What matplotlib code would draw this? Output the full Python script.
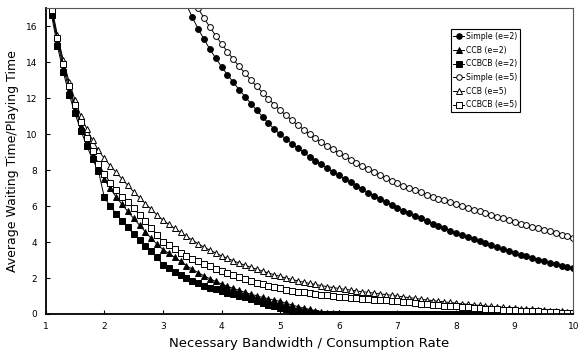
import matplotlib
matplotlib.use("Agg")
import matplotlib.pyplot as plt

# x grid: necessary bandwidth / consumption rate
bandwidth = [1.1, 1.2, 1.3, 1.4, 1.5, 1.6, 1.7, 1.8, 1.9, 2.0,
             2.1, 2.2, 2.3, 2.4, 2.5, 2.6, 2.7, 2.8, 2.9, 3.0,
             3.1, 3.2, 3.3, 3.4, 3.5, 3.6, 3.7, 3.8, 3.9, 4.0,
             4.1, 4.2, 4.3, 4.4, 4.5, 4.6, 4.7, 4.8, 4.9, 5.0,
             5.1, 5.2, 5.3, 5.4, 5.5, 5.6, 5.7, 5.8, 5.9, 6.0,
             6.1, 6.2, 6.3, 6.4, 6.5, 6.6, 6.7, 6.8, 6.9, 7.0,
             7.1, 7.2, 7.3, 7.4, 7.5, 7.6, 7.7, 7.8, 7.9, 8.0,
             8.1, 8.2, 8.3, 8.4, 8.5, 8.6, 8.7, 8.8, 8.9, 9.0,
             9.1, 9.2, 9.3, 9.4, 9.5, 9.6, 9.7, 9.8, 9.9, 10.0]

# Simple series start at 3.4 (earlier values are off the top of the chart)
simple_start = 23

simple_e2 = [17.2, 16.5, 15.85, 15.28, 14.72, 14.22, 13.75,
             13.3, 12.88, 12.47, 12.08, 11.7, 11.33, 10.96, 10.6, 10.28, 9.98,
             9.72, 9.47, 9.22, 8.98, 8.75, 8.53, 8.32, 8.11, 7.9, 7.7,
             7.5, 7.31, 7.12, 6.93, 6.75, 6.58, 6.4, 6.23, 6.07, 5.9,
             5.75, 5.6, 5.45, 5.31, 5.17, 5.03, 4.9, 4.77, 4.64, 4.51,
             4.39, 4.27, 4.15, 4.04, 3.93, 3.82, 3.71, 3.6, 3.5, 3.4,
             3.3, 3.2, 3.11, 3.02, 2.93, 2.84, 2.76, 2.68, 2.6, 2.53]

simple_e5 = [18.2, 17.6, 17.0, 16.45, 15.95, 15.47, 15.02,
             14.58, 14.16, 13.76, 13.38, 13.01, 12.65, 12.3, 11.96, 11.63, 11.32,
             11.04, 10.77, 10.5, 10.25, 10.0, 9.78, 9.56, 9.35, 9.15, 8.95,
             8.76, 8.58, 8.4, 8.22, 8.05, 7.89, 7.73, 7.57, 7.42, 7.27,
             7.14, 7.01, 6.88, 6.76, 6.64, 6.53, 6.42, 6.31, 6.2, 6.1,
             6.0, 5.9, 5.8, 5.7, 5.6, 5.5, 5.4, 5.31, 5.21, 5.12,
             5.03, 4.94, 4.85, 4.77, 4.68, 4.59, 4.5, 4.41, 4.33, 4.24]

ccb_e2 = [16.8, 15.15, 13.7, 12.45, 11.4, 10.45, 9.6, 8.85, 8.15, 7.48,
          6.98, 6.52, 6.1, 5.7, 5.31, 4.94, 4.56, 4.2, 3.88, 3.58,
          3.37, 3.15, 2.92, 2.69, 2.49, 2.3, 2.12, 1.96, 1.81, 1.67,
          1.54, 1.42, 1.31, 1.2, 1.1, 1.01, 0.92, 0.84, 0.77, 0.7,
          0.6, 0.5, 0.41, 0.33, 0.26, 0.19, 0.13, 0.08, 0.05, 0.03,
          0.01, 0, 0, 0, 0, 0, 0, 0, 0, 0,
          0, 0, 0, 0, 0, 0, 0, 0, 0, 0,
          0, 0, 0, 0, 0, 0, 0, 0, 0, 0,
          0, 0, 0, 0, 0, 0, 0, 0, 0, 0]

ccbcb_e2 = [16.6, 14.9, 13.45, 12.2, 11.15, 10.2, 9.35, 8.6, 7.95, 6.48,
            6.0, 5.58, 5.18, 4.82, 4.45, 4.1, 3.78, 3.48, 3.17, 2.72,
            2.54, 2.35, 2.17, 1.99, 1.84, 1.7, 1.58, 1.47, 1.37, 1.27,
            1.18, 1.09, 1.0, 0.92, 0.84, 0.74, 0.63, 0.52, 0.42, 0.33,
            0.25, 0.19, 0.14, 0.1, 0.07, 0.04, 0.02, 0.01, 0, 0,
            0, 0, 0, 0, 0, 0, 0, 0, 0, 0,
            0, 0, 0, 0, 0, 0, 0, 0, 0, 0,
            0, 0, 0, 0, 0, 0, 0, 0, 0, 0,
            0, 0, 0, 0, 0, 0, 0, 0, 0, 0]

ccb_e5 = [17.1, 15.5, 14.1, 12.9, 11.9, 11.0, 10.3, 9.65, 9.1, 8.65,
          8.25, 7.88, 7.52, 7.15, 6.8, 6.47, 6.14, 5.82, 5.5, 5.22,
          4.98, 4.76, 4.54, 4.32, 4.11, 3.9, 3.72, 3.55, 3.39, 3.23,
          3.09, 2.96, 2.83, 2.71, 2.6, 2.49, 2.38, 2.28, 2.18, 2.09,
          2.0, 1.92, 1.84, 1.77, 1.7, 1.64, 1.58, 1.52, 1.47, 1.42,
          1.37, 1.33, 1.28, 1.24, 1.2, 1.16, 1.12, 1.08, 1.04, 1.0,
          0.95, 0.91, 0.87, 0.82, 0.78, 0.74, 0.71, 0.67, 0.64, 0.6,
          0.57, 0.54, 0.51, 0.48, 0.45, 0.42, 0.4, 0.37, 0.35, 0.32,
          0.3, 0.27, 0.25, 0.22, 0.2, 0.18, 0.16, 0.14, 0.12, 0.1]

ccbcb_e5 = [16.9, 15.35, 13.9, 12.7, 11.6, 10.65, 9.8, 9.05, 8.35, 7.8,
            7.3, 6.87, 6.52, 6.2, 5.87, 5.52, 5.15, 4.78, 4.4, 4.02,
            3.82, 3.61, 3.41, 3.23, 3.08, 2.94, 2.8, 2.66, 2.52, 2.39,
            2.27, 2.16, 2.05, 1.95, 1.85, 1.75, 1.66, 1.57, 1.49, 1.42,
            1.36, 1.3, 1.25, 1.2, 1.15, 1.11, 1.07, 1.03, 0.99, 0.95,
            0.92, 0.89, 0.87, 0.84, 0.82, 0.8, 0.78, 0.76, 0.74, 0.72,
            0.68, 0.65, 0.61, 0.58, 0.55, 0.52, 0.5, 0.47, 0.45, 0.42,
            0.4, 0.37, 0.35, 0.32, 0.3, 0.28, 0.26, 0.24, 0.22, 0.2,
            0.18, 0.17, 0.15, 0.14, 0.12, 0.1, 0.09, 0.07, 0.06, 0.05]

x_ticks = [1, 2, 3, 4, 5, 6, 7, 8, 9, 10]
y_ticks = [0, 2, 4, 6, 8, 10, 12, 14, 16]

plt.rcParams["font.family"] = ["DejaVu Sans"]

fig = plt.figure(figsize=(5.83, 3.56), dpi=100)
ax = fig.add_axes([0.0784, 0.118, 0.905, 0.859])

series = [
    ("Simple (e=2)", bandwidth[simple_start:], simple_e2, "o", "black"),
    ("CCB (e=2)", bandwidth, ccb_e2, "^", "black"),
    ("CCBCB (e=2)", bandwidth, ccbcb_e2, "s", "black"),
    ("Simple (e=5)", bandwidth[simple_start:], simple_e5, "o", "white"),
    ("CCB (e=5)", bandwidth, ccb_e5, "^", "white"),
    ("CCBCB (e=5)", bandwidth, ccbcb_e5, "s", "white"),
]
for label, xs, ys, mk, face in series:
    ax.plot(xs, ys, color="black", lw=0.7, marker=mk, markersize=4.2,
            markerfacecolor=face, markeredgecolor="black", markeredgewidth=0.7,
            label=label)

ax.set_xlim(1, 10)
ax.set_ylim(0, 17)
ax.set_xticks(x_ticks)
ax.set_yticks(y_ticks)
ax.tick_params(direction="in", labelsize=6.5, length=3, width=0.8, pad=6)

for side in ("left", "bottom"):
    ax.spines[side].set_linewidth(1.3)
for side in ("top", "right"):
    ax.spines[side].set_linewidth(0.8)
    ax.spines[side].set_color("#555555")

ax.set_xlabel("Necessary Bandwidth / Consumption Rate", fontsize=9.5, labelpad=4)
ax.set_ylabel("Average Waiting Time/Playing Time", fontsize=9.0, labelpad=5)

leg = ax.legend(loc="upper right", bbox_to_anchor=(0.898, 0.931), fontsize=5.6,
                frameon=True, fancybox=False, edgecolor="black", framealpha=1,
                handlelength=1.35, handletextpad=0.2, borderpad=0.35,
                labelspacing=0.6, borderaxespad=0, markerscale=0.95)
leg.get_frame().set_linewidth(0.8)

fig.savefig("out.png", dpi=100)
